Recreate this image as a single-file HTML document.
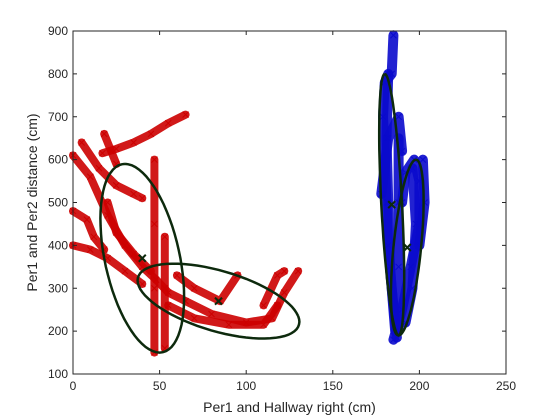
<!DOCTYPE html>
<html><head><meta charset="utf-8"><style>
body{margin:0;background:#fff;}
svg{display:block;font-family:"Liberation Sans",sans-serif;}
</style></head><body>
<svg id="chart" width="560" height="420">
<rect width="560" height="420" fill="#fff"/>
<g id="marks"></g>
<g id="axes"></g>
</svg>
<script>
const xTicks=[0,50,100,150,200,250];
const yTicks=[100,200,300,400,500,600,700,800,900];
const redTracks=[
 [[17,615],[25,625],[35,640],[45,660],[55,685],[65,705]],
 [[0,610],[10,560],[20,470],[30,400],[40,350],[48,320],[55,290],[65,270],[80,240],[100,220],[115,230],[122,290],[130,340]],
 [[0,400],[10,390],[20,370],[30,340],[40,310]],
 [[0,480],[8,460],[12,420],[18,390]],
 [[5,640],[15,580],[25,540],[35,520],[40,510]],
 [[18,660],[22,620],[25,590]],
 [[20,500],[25,430],[35,380],[45,340]],
 [[47,600],[47,450],[47,300],[47,150]],
 [[53,420],[53,300],[53,160]],
 [[60,330],[70,300],[85,270],[95,330]],
 [[55,260],[70,230],[90,215],[110,215],[118,260]],
 [[110,260],[118,330],[122,340]]
];
const blueTracks=[
 [[185,890],[184,800],[180,780],[179,700],[180,600],[181,500],[182,400],[184,300],[186,220],[187,185]],
 [[182,800],[181,650],[182,500],[183,350],[186,200]],
 [[188,650],[188,500],[188,350],[188,200]],
 [[185,180],[190,250],[195,350],[200,450],[200,550],[197,600],[192,570],[190,500]],
 [[196,580],[198,450],[196,300],[192,220]],
 [[178,520],[182,650],[188,700],[190,620]],
 [[202,600],[203,500],[200,400]]
];
// ellipses: center, conjugate semi-axis vectors (data units)
const ellCenters=[[40,370],[84,270],[184,495],[193,395]];
const ellA=[[-10,220],[46,-35],[-4,305],[5,205]];
const ellB=[[-22,0],[-8,80],[6,0],[8,0]];

const L=73,R=506,T=31,B=374;
const sx=v=>L+(v-0)/(250-0)*(R-L);
const sy=v=>B-(v-100)/(900-100)*(B-T);
const NS="http://www.w3.org/2000/svg";
const marks=document.getElementById('marks'),axes=document.getElementById('axes');
function mk(t,a,p){const e=document.createElementNS(NS,t);for(const k in a)e.setAttribute(k,a[k]);p.appendChild(e);return e;}

function drawTracks(tracks,col,w,name){
 tracks.forEach(tr=>{
  const pl=mk('polyline',{points:tr.map(p=>sx(p[0])+','+sy(p[1])).join(' '),fill:'none',stroke:col,'stroke-width':w,'stroke-linejoin':'round','stroke-linecap':'round','stroke-opacity':0.9},marks);
  
  
  tr.forEach(p=>{
   const x=sx(p[0]),y=sy(p[1]);
   const m=mk('path',{d:`M${x-3},${y-3}L${x+3},${y+3}M${x-3},${y+3}L${x+3},${y-3}`,stroke:col,'stroke-width':1},marks);
   
   
  });
 });
}
drawTracks(redTracks,'#cc0000',8,'red');
drawTracks(blueTracks,'#0a0acc',10,'blue');

ellCenters.forEach((c,i)=>{
 let d='';
 for(let k=0;k<=72;k++){const t=k/72*2*Math.PI;
  const x=c[0]+ellA[i][0]*Math.cos(t)+ellB[i][0]*Math.sin(t);
  const y=c[1]+ellA[i][1]*Math.cos(t)+ellB[i][1]*Math.sin(t);
  d+=(k?'L':'M')+sx(x).toFixed(1)+','+sy(y).toFixed(1);}
 const e=mk('path',{d:d,fill:'none',stroke:'#0d2a0d','stroke-width':2.5},marks);
 
 
 const x=sx(c[0]),y=sy(c[1]);
 const m=mk('path',{d:`M${x-3.5},${y-3.5}L${x+3.5},${y+3.5}M${x-3.5},${y+3.5}L${x+3.5},${y-3.5}`,stroke:'#0d2a0d','stroke-width':2},marks);
 
 
});

const box=mk('rect',{x:L,y:T,width:R-L,height:B-T,fill:'none',stroke:'#262626','stroke-width':1},axes);


xTicks.forEach(v=>{const x=sx(v);
 mk('path',{d:`M${x},${B}v-4M${x},${T}v4`,stroke:'#262626'},axes);
 const t=mk('text',{x:x,y:B+16,'text-anchor':'middle','font-size':12,fill:'#262626'},axes);t.textContent=v;
 
 
});
yTicks.forEach(v=>{const y=sy(v);
 mk('path',{d:`M${L},${y}h4M${R},${y}h-4`,stroke:'#262626'},axes);
 const t=mk('text',{x:L-5,y:y+4,'text-anchor':'end','font-size':12,fill:'#262626'},axes);t.textContent=v;
 
 
});
const xl=mk('text',{x:(L+R)/2,y:412,'text-anchor':'middle','font-size':14,fill:'#262626'},axes);xl.textContent='Per1 and Hallway right (cm)';


const yl=mk('text',{x:0,y:0,'text-anchor':'middle','font-size':14,fill:'#262626',transform:`translate(37,${(T+B)/2}) rotate(-90)`},axes);yl.textContent='Per1 and Per2 distance (cm)';


</script>
</body></html>
